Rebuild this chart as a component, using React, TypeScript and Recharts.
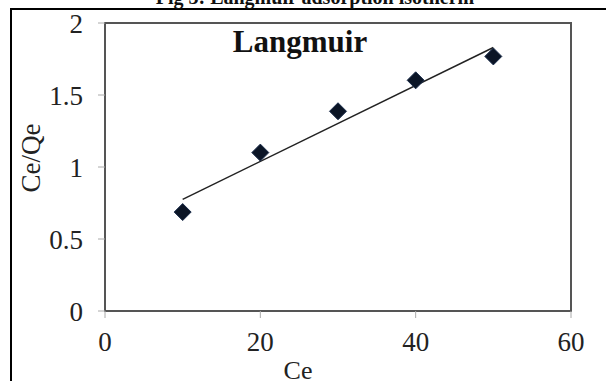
import React from 'react';
import { ComposedChart, Scatter, XAxis, YAxis, ReferenceLine, ReferenceArea } from 'recharts';

const ceValues = [10, 20, 30, 40, 50];
const ceQeValues = [0.687, 1.1, 1.387, 1.602, 1.768];
const trendX = [10, 50];
const trendY = [0.775, 1.83];
const xTicks = [0, 20, 40, 60];
const yTicks = [0, 0.5, 1, 1.5, 2];

const points = ceValues.map((x, i) => ({ x, y: ceQeValues[i] }));
const trendSegment = trendX.map((x, i) => ({ x, y: trendY[i] }));

const FONT = '"Liberation Serif", "Times New Roman", serif';

const Diamond = (props: any) => {
  const { cx, cy } = props;
  const r = 8.5;
  return (
    <polygon
      points={`${cx},${cy - r} ${cx + r},${cy} ${cx},${cy + r} ${cx - r},${cy}`}
      fill="#0b1526"
      stroke="#1a2c4a"
      strokeWidth={1}
    />
  );
};

export default function App() {
  return (
    <div style={{ position: 'absolute', left: 0, top: 0, width: 606, height: 381, background: '#fff', overflow: 'hidden' }}>
      <ComposedChart
        width={606}
        height={381}
        margin={{ top: 23, right: 35, bottom: 30, left: 45 }}
      >
        <XAxis
          type="number"
          dataKey="x"
          domain={[0, 60]}
          ticks={xTicks}
          height={40}
          tickSize={7}
          tickMargin={14}
          axisLine={{ stroke: '#555', strokeWidth: 2 }}
          tickLine={{ stroke: '#aaa', strokeWidth: 1 }}
          tick={{ fill: '#222', fontSize: 27, fontFamily: FONT }}
        />
        <YAxis
          type="number"
          dataKey="y"
          domain={[0, 2]}
          ticks={yTicks}
          width={60}
          tickSize={7}
          tickMargin={15}
          axisLine={{ stroke: '#555', strokeWidth: 2 }}
          tickLine={{ stroke: '#aaa', strokeWidth: 1 }}
          tick={{ fill: '#222', fontSize: 27, fontFamily: FONT }}
        />
        <ReferenceArea x1={0} x2={60} y1={0} y2={2} fill="none" stroke="#555" strokeWidth={2} ifOverflow="visible" />
        <ReferenceLine segment={trendSegment} stroke="#222" strokeWidth={1.5} />
        <Scatter data={points} shape={<Diamond />} isAnimationActive={false} />
      </ComposedChart>
      <svg width={606} height={381} style={{ position: 'absolute', left: 0, top: 0, pointerEvents: 'none' }}>
        <line x1={11} y1={8} x2={11} y2={381} stroke="#000" strokeWidth={2} />
        <line x1={10} y1={9} x2={606} y2={9} stroke="#000" strokeWidth={2} />
        <text x={315} y={4} textAnchor="middle" fontFamily={FONT} fontWeight="bold" fontSize={20} fill="#111">
          Fig 3: Langmuir adsorption isotherm
        </text>
        <text x={300} y={52} textAnchor="middle" fontFamily={FONT} fontWeight="bold" fontSize={31} fill="#111">
          Langmuir
        </text>
        <text x={298} y={379} textAnchor="middle" fontFamily={FONT} fontSize={26} fill="#222">
          Ce
        </text>
        <text x={40} y={158} textAnchor="middle" fontFamily={FONT} fontSize={27} fill="#222" transform="rotate(-90 40 158)">
          Ce/Qe
        </text>
      </svg>
    </div>
  );
}
